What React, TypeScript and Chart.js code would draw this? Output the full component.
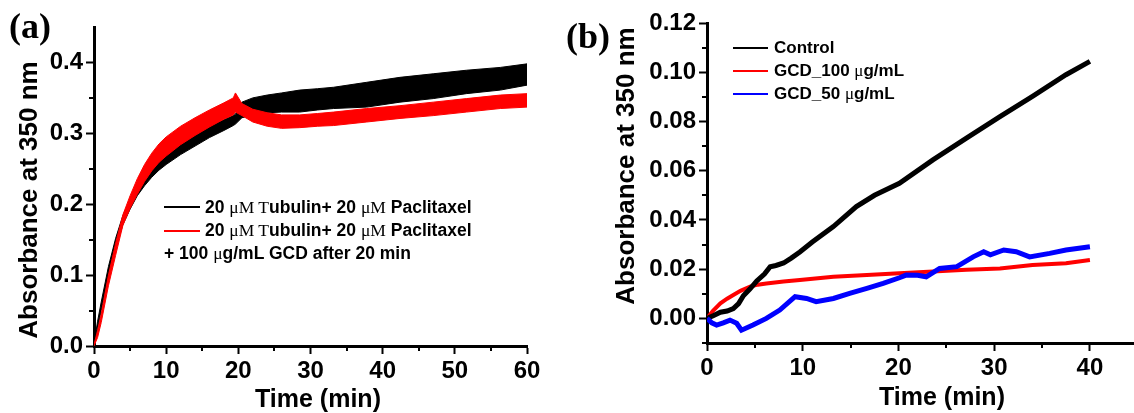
import React, { useEffect, useRef } from 'react';
import { Chart, registerables } from 'chart.js';

Chart.register(...registerables);

// ---------- Panel (a) data: noisy traces as upper / lower envelopes ----------
const TIME_A = [0, 0.5, 1, 2, 3, 4, 5, 6, 7, 8, 9, 10, 12, 14, 16, 18, 19.3, 19.6, 20.5, 22, 24, 26, 28.5, 31, 33.2, 37.8, 42.4, 47, 51.6, 56.3, 60];
const CTRL_A_UPPER = [0.003, 0.035, 0.062, 0.112, 0.152, 0.184, 0.206, 0.226, 0.242, 0.255, 0.265, 0.274, 0.288, 0.3, 0.311, 0.319, 0.325, 0.327, 0.344, 0.35, 0.354, 0.357, 0.361, 0.363, 0.365, 0.372, 0.379, 0.384, 0.389, 0.393, 0.398];
const CTRL_A_LOWER = [0, 0.025, 0.05, 0.098, 0.138, 0.171, 0.193, 0.212, 0.226, 0.238, 0.248, 0.256, 0.27, 0.282, 0.294, 0.304, 0.311, 0.313, 0.322, 0.326, 0.329, 0.33, 0.33, 0.333, 0.335, 0.337, 0.344, 0.349, 0.356, 0.361, 0.368];
const GCD_A_UPPER = [0.002, 0.022, 0.045, 0.1, 0.145, 0.185, 0.212, 0.236, 0.256, 0.272, 0.285, 0.295, 0.31, 0.322, 0.333, 0.343, 0.35, 0.357, 0.342, 0.334, 0.329, 0.326, 0.326, 0.328, 0.33, 0.335, 0.339, 0.344, 0.349, 0.354, 0.356];
const GCD_A_LOWER = [0, 0.012, 0.033, 0.085, 0.128, 0.17, 0.194, 0.214, 0.232, 0.247, 0.259, 0.268, 0.284, 0.297, 0.309, 0.32, 0.326, 0.33, 0.325, 0.316, 0.31, 0.307, 0.308, 0.31, 0.311, 0.316, 0.321, 0.325, 0.33, 0.335, 0.337];

const X_TICKS_A = [0, 10, 20, 30, 40, 50, 60];
const X_MINOR_A = [5, 15, 25, 35, 45, 55];
const Y_TICKS_A = [0, 0.1, 0.2, 0.3, 0.4];
const Y_TICK_LABELS_A = ['0.0', '0.1', '0.2', '0.3', '0.4'];
const Y_MINOR_A = [0.05, 0.15, 0.25, 0.35];

// ---------- Panel (b) data ----------
const CONTROL_T = [0, 0.7, 1.4, 2.1, 2.75, 3.3, 3.8, 4.5, 5.2, 6, 6.6, 7.2, 8, 8.8, 9.7, 11, 13.2, 15.6, 17.5, 20.1, 23.6, 27.1, 30.6, 34, 37.5, 40];
const CONTROL_B = [0, 0.0012, 0.0025, 0.003, 0.004, 0.006, 0.0092, 0.012, 0.0152, 0.018, 0.021, 0.0215, 0.0225, 0.0245, 0.027, 0.031, 0.0373, 0.0454, 0.05, 0.0549, 0.0644, 0.0732, 0.082, 0.0902, 0.099, 0.1044];
const GCD100_T = [0, 0.6, 1.4, 2.1, 2.75, 3.5, 4.5, 5.3, 6.2, 8, 9.7, 13.2, 16.7, 20.1, 23.6, 27.1, 30.6, 34, 37.5, 40];
const GCD100_B = [0, 0.003, 0.0061, 0.008, 0.0095, 0.0112, 0.0129, 0.0137, 0.0142, 0.015, 0.0156, 0.0169, 0.0176, 0.0183, 0.019, 0.0198, 0.0203, 0.0217, 0.0224, 0.0237];
const GCD50_T = [0, 0.5, 1, 1.7, 2.4, 3.1, 3.6, 4.8, 6.2, 7.6, 9.2, 10.4, 11.4, 13.2, 14.9, 16.7, 18.4, 20.1, 20.8, 22, 22.9, 24.3, 26.1, 27.8, 28.9, 29.6, 31, 32.3, 33.7, 35.8, 37.5, 40];
const GCD50_B = [0, -0.0018, -0.0027, -0.0018, -0.0007, -0.002, -0.0048, -0.0027, 0, 0.0034, 0.0088, 0.0081, 0.0068, 0.0081, 0.0102, 0.0122, 0.0142, 0.0165, 0.0176, 0.0175, 0.0169, 0.0203, 0.021, 0.025, 0.0271, 0.0258, 0.0278, 0.0271, 0.025, 0.0264, 0.0278, 0.0291];

const X_TICKS_B = [0, 10, 20, 30, 40];
const X_MINOR_B = [5, 15, 25, 35];
const Y_TICKS_B = [0, 0.02, 0.04, 0.06, 0.08, 0.1, 0.12];
const Y_TICK_LABELS_B = ['0.00', '0.02', '0.04', '0.06', '0.08', '0.10', '0.12'];
const Y_MINOR_B = [-0.01, 0.01, 0.03, 0.05, 0.07, 0.09, 0.11];

const SANS = '"Liberation Sans", Arial, Helvetica, sans-serif';
const SERIF = '"Liberation Serif", "Times New Roman", serif';

const pts = (xs: number[], ys: number[]) => xs.map((x, i) => ({ x, y: ys[i] }));

function minorTicksPlugin(xMinor: number[], yMinor: number[]) {
  return {
    id: 'minorTicks',
    afterDraw(chart: any) {
      const { ctx, chartArea } = chart;
      const xs = chart.scales.x;
      const ys = chart.scales.y;
      ctx.save();
      ctx.strokeStyle = '#000';
      ctx.lineWidth = 2;
      ctx.beginPath();
      for (const v of xMinor) {
        const p = Math.round(xs.getPixelForValue(v));
        ctx.moveTo(p, chartArea.bottom);
        ctx.lineTo(p, chartArea.bottom + 5);
      }
      for (const v of yMinor) {
        const p = Math.round(ys.getPixelForValue(v));
        ctx.moveTo(chartArea.left, p);
        ctx.lineTo(chartArea.left - 5, p);
      }
      ctx.stroke();
      ctx.restore();
    },
  };
}

function axis(min: number, max: number, ticks: number[], labels: string[] | null, size: number, isY: boolean) {
  return {
    type: 'linear' as const,
    min,
    max,
    afterBuildTicks: (s: any) => {
      s.ticks = ticks.map((v) => ({ value: v }));
    },
    afterFit: (s: any) => {
      if (isY) s.width = size;
      else s.height = size;
    },
    grid: { display: true, drawOnChartArea: false, drawTicks: true, tickLength: 8, tickWidth: 2, tickColor: '#000' },
    border: { display: true, color: '#000', width: 3 },
    ticks: {
      color: '#000',
      padding: 3,
      font: { family: SANS, size: 24, weight: 'bold' as const },
      callback: (v: any, i: number) => (labels ? labels[i] : String(v)),
    },
  };
}

const abs = (s: React.CSSProperties): React.CSSProperties => ({ position: 'absolute', whiteSpace: 'nowrap', color: '#000', ...s });

export default function App() {
  const refA = useRef<HTMLCanvasElement>(null);
  const refB = useRef<HTMLCanvasElement>(null);

  useEffect(() => {
    const common = { pointRadius: 0, tension: 0 };
    const chartA = new Chart(refA.current as HTMLCanvasElement, {
      type: 'line',
      data: {
        datasets: [
          { label: 'GCD upper', data: pts(TIME_A, GCD_A_UPPER), borderColor: '#ff0000', backgroundColor: '#ff0000', borderWidth: 1, fill: '+1', ...common },
          { label: 'GCD lower', data: pts(TIME_A, GCD_A_LOWER), borderColor: '#ff0000', backgroundColor: '#ff0000', borderWidth: 1, fill: false, ...common },
          { label: 'Control upper', data: pts(TIME_A, CTRL_A_UPPER), borderColor: '#000000', backgroundColor: '#000000', borderWidth: 1, fill: '+1', ...common },
          { label: 'Control lower', data: pts(TIME_A, CTRL_A_LOWER), borderColor: '#000000', backgroundColor: '#000000', borderWidth: 1, fill: false, ...common },
        ],
      },
      options: {
        responsive: false,
        animation: false,
        devicePixelRatio: 1,
        layout: { padding: { left: 0, top: 27, right: 33, bottom: 0 } },
        plugins: {
          legend: { display: false },
          tooltip: { enabled: false },
          filler: { drawTime: 'beforeDatasetDraw' },
        } as any,
        scales: {
          x: axis(0, 60, X_TICKS_A, null, 67, false),
          y: axis(0, 0.45, Y_TICKS_A, Y_TICK_LABELS_A, 94, true),
        } as any,
      },
      plugins: [minorTicksPlugin(X_MINOR_A, Y_MINOR_A)],
    });

    const chartB = new Chart(refB.current as HTMLCanvasElement, {
      type: 'line',
      data: {
        datasets: [
          { label: 'GCD_50 μg/mL', data: pts(GCD50_T, GCD50_B), borderColor: '#0000ff', borderWidth: 5, fill: false, ...common },
          { label: 'Control', data: pts(CONTROL_T, CONTROL_B), borderColor: '#000000', borderWidth: 5, fill: false, ...common },
          { label: 'GCD_100 μg/mL', data: pts(GCD100_T, GCD100_B), borderColor: '#ff0000', borderWidth: 4, fill: false, ...common },
        ],
      },
      options: {
        responsive: false,
        animation: false,
        devicePixelRatio: 1,
        layout: { padding: { left: 0, top: 23, right: 1, bottom: 0 } },
        plugins: { legend: { display: false }, tooltip: { enabled: false } },
        scales: {
          x: axis(0, 44.5, X_TICKS_B, null, 70, false),
          y: axis(-0.01, 0.12, Y_TICKS_B, Y_TICK_LABELS_B, 147, true),
        } as any,
      },
      plugins: [minorTicksPlugin(X_MINOR_B, Y_MINOR_B)],
    });

    return () => {
      chartA.destroy();
      chartB.destroy();
    };
  }, []);

  const legendFont: React.CSSProperties = { fontFamily: SANS, fontWeight: 'bold', fontSize: 17.5, lineHeight: '17px' };
  const legendFontB: React.CSSProperties = { fontFamily: SANS, fontWeight: 'bold', fontSize: 17, lineHeight: '17px' };
  const mu: React.CSSProperties = { fontFamily: SERIF, fontWeight: 'normal' };
  const titleFont: React.CSSProperties = { fontFamily: SANS, fontWeight: 'bold', fontSize: 25, lineHeight: '30px', textAlign: 'center', width: 300, height: 30 };
  const yTitleFont: React.CSSProperties = { ...titleFont, fontSize: 26 };
  const panelFont: React.CSSProperties = { fontFamily: SERIF, fontWeight: 'bold', fontSize: 36, lineHeight: '36px' };

  return (
    <div style={{ position: 'absolute', left: 0, top: 0, width: 1134, height: 413, background: '#fff', overflow: 'hidden' }}>
      <canvas ref={refA} width={560} height={413} style={{ position: 'absolute', left: 0, top: 0 }} />
      <canvas ref={refB} width={574} height={413} style={{ position: 'absolute', left: 560, top: 0 }} />

      {/* panel labels */}
      <div style={abs({ ...panelFont, left: 9, top: 8 })}>(a)</div>
      <div style={abs({ ...panelFont, left: 566, top: 18 })}>(b)</div>

      {/* axis titles */}
      <div style={abs({ ...titleFont, left: 168, top: 383 })}>Time (min)</div>
      <div style={abs({ ...titleFont, left: 792, top: 381 })}>Time (min)</div>
      <div style={abs({ ...yTitleFont, left: 27.5 - 150, top: 199.5 - 15, transform: 'rotate(-90deg)' })}>Absorbance at 350 nm</div>
      <div style={abs({ ...yTitleFont, left: 625 - 150, top: 165.5 - 15, transform: 'rotate(-90deg)' })}>Absorbance at 350 nm</div>

      {/* legend (a) */}
      <div style={abs({ left: 164, top: 206, width: 36, height: 2, background: '#000' })} />
      <div style={abs({ left: 164, top: 229.5, width: 36, height: 2, background: '#ff0000' })} />
      <div style={abs({ ...legendFont, left: 205, top: 198.5 })}>
        20 <span style={mu}>μM T</span>ubulin+ 20 <span style={mu}>μM</span> Paclitaxel
      </div>
      <div style={abs({ ...legendFont, left: 205, top: 221.5 })}>
        20 <span style={mu}>μM T</span>ubulin+ 20 <span style={mu}>μM</span> Paclitaxel
      </div>
      <div style={abs({ ...legendFont, left: 164, top: 244.5 })}>
        + 100 <span style={mu}>μ</span>g/mL GCD after 20 min
      </div>

      {/* legend (b) */}
      <div style={abs({ left: 733, top: 47, width: 35, height: 2, background: '#000' })} />
      <div style={abs({ left: 733, top: 69.5, width: 35, height: 2, background: '#ff0000' })} />
      <div style={abs({ left: 733, top: 93, width: 35, height: 2, background: '#0000ff' })} />
      <div style={abs({ ...legendFontB, left: 774, top: 38.5 })}>Control</div>
      <div style={abs({ ...legendFontB, left: 774, top: 61.8 })}>
        GCD_100 <span style={mu}>μ</span>g/mL
      </div>
      <div style={abs({ ...legendFontB, left: 774, top: 84.8 })}>
        GCD_50 <span style={mu}>μ</span>g/mL
      </div>
    </div>
  );
}
